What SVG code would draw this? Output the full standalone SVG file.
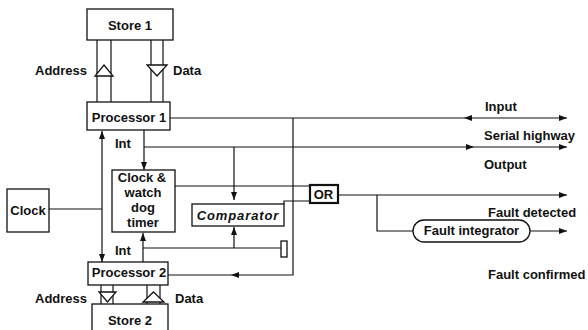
<svg xmlns="http://www.w3.org/2000/svg" width="588" height="330" viewBox="0 0 588 330">
<style>
.box{fill:#fff;stroke:#111;stroke-width:1.3}
.thick{fill:#fff;stroke:#111;stroke-width:2.2}
.ln{fill:none;stroke:#111;stroke-width:1.2}
.tri{fill:#fff;stroke:#111;stroke-width:1.3}
.ah{fill:#111;stroke:none}
text{font-family:"Liberation Sans",Arial,sans-serif;font-weight:bold;font-size:13px;fill:#111}
.c{text-anchor:middle}
</style>
<defs>
<marker id="arr" viewBox="0 0 8 6" refX="8" refY="3" markerWidth="8" markerHeight="6" markerUnits="userSpaceOnUse" orient="auto-start-reverse">
<path d="M0,0 L8,3 L0,6 Z" fill="#111"/>
</marker>
</defs>
<g id="connectors">
<!-- store 1 buses -->
<path class="ln" d="M97,40 V102 M111,40 V102 M151,40 V102 M163,40 V102"/>
<path class="tri" d="M104,65 L113,76 L95,76 Z"/>
<path class="tri" d="M147,65 L167,65 L157,76 Z"/>
<!-- store 2 buses -->
<path class="ln" d="M101,285 V304 M113,285 V304 M147,285 V304 M160,285 V304"/>
<path class="tri" d="M99,292 L116,292 L107.5,302 Z"/>
<path class="tri" d="M153.5,292 L164,302 L143,302 Z"/>
<!-- input line -->
<path class="ln" d="M170,118 H567" marker-end="url(#arr)"/>
<path class="ah" d="M464,118 L472,115 L472,121 Z"/>
<path class="ln" d="M293,118 V275 H168"/>
<path class="ah" d="M231,275 L239,272 L239,278 Z"/>
<!-- output line -->
<path class="ln" d="M144,130 V170" marker-end="url(#arr)"/>
<path class="ln" d="M144,147 H567" marker-end="url(#arr)"/>
<path class="ah" d="M474,147 L466,144 L466,150 Z"/>
<path class="ln" d="M234,147 V200" marker-end="url(#arr)"/>
<!-- to OR -->
<path class="ln" d="M175,186 H310"/>
<path class="ln" d="M284,204 V201 H310"/>
<path class="ln" d="M338,195 H567" marker-end="url(#arr)"/>
<path class="ln" d="M377,195 V231 H413"/>
<path class="ln" d="M530,231 H567" marker-end="url(#arr)"/>
<!-- clock -->
<path class="ln" d="M49,209 H102"/>
<path class="ln" d="M102,131 V262" marker-start="url(#arr)" marker-end="url(#arr)"/>
<!-- processor 2 int -->
<path class="ln" d="M143,262 V233" marker-end="url(#arr)"/>
<path class="ln" d="M143,248 H281"/>
<path class="ln" d="M234,248 V227" marker-end="url(#arr)"/>
</g>
<g id="store1"><rect class="box" x="87" y="9" width="86" height="31"/><text class="c" x="130" y="30">Store 1</text></g>
<g id="processor1"><rect class="box" x="87" y="102" width="83" height="28"/><text class="c" x="129" y="122">Processor 1</text></g>
<g id="watchdog"><rect class="box" x="112" y="170" width="63" height="62"/>
<text class="c" x="142" y="182">Clock &amp;</text><text class="c" x="143" y="197">watch</text><text class="c" x="143" y="212">dog</text><text class="c" x="143" y="227">timer</text></g>
<g id="clock"><rect class="box" x="7" y="189" width="42" height="43"/><text class="c" x="28" y="215">Clock</text></g>
<g id="comparator"><rect class="box" x="192" y="204" width="92" height="22"/><text class="c" x="238" y="220" font-style="italic" letter-spacing="0.9">Comparator</text></g>
<g id="terminator"><rect class="box" x="281" y="241" width="6" height="16"/></g>
<g id="or"><rect class="thick" x="310" y="185" width="28" height="18"/><text class="c" x="323.5" y="199">OR</text></g>
<g id="faultintegrator"><rect class="box" x="413" y="220" width="117" height="22" rx="11" ry="11"/><text class="c" x="471.5" y="235">Fault integrator</text></g>
<g id="processor2"><rect class="box" x="88" y="262" width="80" height="23"/><text class="c" x="129" y="277">Processor 2</text></g>
<g id="store2"><rect class="box" x="92" y="304" width="76" height="30"/><text class="c" x="130" y="325">Store 2</text></g>
<g id="labels">
<text x="35" y="75">Address</text>
<text x="173" y="75">Data</text>
<text x="115" y="148">Int</text>
<text x="115" y="255">Int</text>
<text x="35" y="303">Address</text>
<text x="175" y="303">Data</text>
<text x="485" y="111">Input</text>
<text x="484" y="140">Serial highway</text>
<text x="484" y="169">Output</text>
<text x="488" y="217">Fault detected</text>
<text x="488" y="279">Fault confirmed</text>
</g>
</svg>
